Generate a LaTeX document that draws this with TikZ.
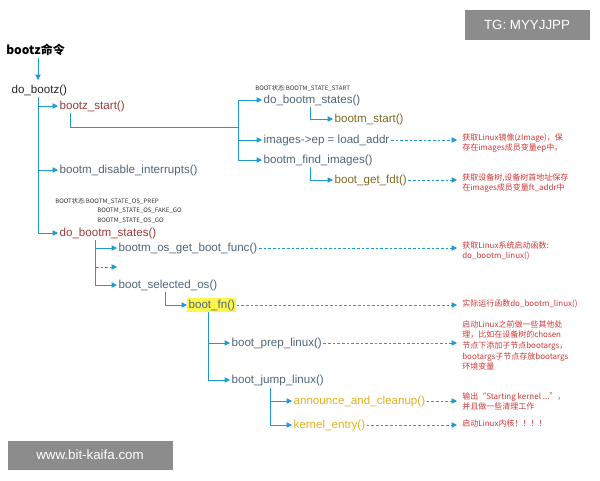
\documentclass[tikz,border=0pt]{standalone}
\usepackage{fontspec}
\setmainfont{Liberation Sans}
\newfontfamily\cjk{Noto Sans CJK SC}
\usetikzlibrary{arrows.meta}
\definecolor{arr}{HTML}{1E9AD0}
\definecolor{fn}{HTML}{4E6678}
\definecolor{fr}{HTML}{9A3A3A}
\definecolor{fo}{HTML}{7E6A22}
\definecolor{fy}{HTML}{E0B020}
\definecolor{nt}{HTML}{D03535}
\begin{document}
\begin{tikzpicture}[x=0.75pt,y=-0.75pt,
 t/.style={anchor=west,inner sep=1pt,font=\fontsize{8.7}{10}\selectfont,text=fn},
 nt/.style={anchor=north west,inner sep=0pt,font=\cjk\fontsize{6}{8}\selectfont,text=nt,align=left},
 st/.style={anchor=west,inner sep=0pt,font=\cjk\fontsize{4.6}{5}\selectfont,text=black!80},
 a/.style={draw=arr,line width=0.6pt,-{Triangle[length=4pt,width=4pt]}},
 d/.style={a,dashed,dash pattern=on 2pt off 1.5pt}]
\useasboundingbox (0,0) rectangle (600,480);
\node[fill=black!45,text=white,minimum width=125pt*0.75,minimum height=30pt*0.75,font=\fontsize{10}{12}\selectfont] (tg) at (527,25) {TG: MYYJJPP};
\node[fill=black!45,text=white,minimum width=165pt*0.75,minimum height=29pt*0.75,font=\fontsize{10}{12}\selectfont] (web) at (90,455) {www.bit-kaifa.com};
\node[anchor=west,inner sep=0pt,font=\bfseries\cjk\fontsize{9}{10}\selectfont] (cmd) at (6,50) {bootz命令};
\node[t,text=black!85] (dobootz) at (10,90) {do\_bootz()};
\draw[a] (38,58) -- (38,80);
\node[t,text=fr] (bzs) at (58,106) {bootz\_start()};
\node[t] (bdi) at (58,170) {bootm\_disable\_interrupts()};
\node[t,text=fr] (dbs2) at (58,233) {do\_bootm\_states()};
\draw[a] (38,97) |- (bzs.west);
\draw[a] (38,97) |- (bdi.west);
\draw[a] (38,97) |- (dbs2.west);
\node[st] (s1) at (255,88) {BOOT状态:BOOTM\_STATE\_START};
\node[t] (dbs1) at (262,100) {do\_bootm\_states()};
\node[t] (iep) at (262,140) {images->ep = load\_addr};
\node[t] (bfi) at (262,160) {bootm\_find\_images()};
\node[t,text=fo] (bst) at (333,119) {bootm\_start()};
\node[t,text=fo] (bgf) at (333,180) {boot\_get\_fdt()};
\coordinate (j1) at (238,127);
\draw[draw=arr,line width=0.6pt] (70,113) |- (j1);
\draw[a] (j1) |- (dbs1.west);
\draw[a] (j1) |- (iep.west);
\draw[a] (j1) |- (bfi.west);
\draw[a] (310,107) |- (bst.west);
\draw[a] (310,167) |- (bgf.west);
\node[nt] (n1) at (462,133) {获取Linux镜像(zImage)，保\\存在images成员变量ep中。};
\node[nt] (n2) at (462,173) {获取设备树,设备树首地址保存\\在images成员变量ft\_addr中};
\draw[d] (iep.east) -- (457,140);
\draw[d] (bgf.east) -- (457,180);
\node[st] (s2) at (55,201) {BOOT状态:BOOTM\_STATE\_OS\_PREP};
\node[st] (s3) at (97,211) {BOOTM\_STATE\_OS\_FAKE\_GO};
\node[st] (s4) at (97,221) {BOOTM\_STATE\_OS\_GO};
\node[t] (gbf) at (117,248) {bootm\_os\_get\_boot\_func()};
\coordinate (dots) at (117,267);
\node[t] (bso) at (117,285) {boot\_selected\_os()};
\draw[a] (95,240) |- (gbf.west);
\draw[d] (95,240) |- (dots);
\draw[a] (95,240) |- (bso.west);
\node[t,fill=yellow!70,inner xsep=1pt] (bfn) at (187,305) {boot\_fn\textcolor{fn}{()}};
\draw[a] (165,292) |- (bfn.west);
\node[t] (bpl) at (230,343) {boot\_prep\_linux()};
\node[t] (bjl) at (230,380) {boot\_jump\_linux()};
\draw[a] (208,312) |- (bpl.west);
\draw[a] (208,312) |- (bjl.west);
\node[t,text=fy] (aac) at (292,401) {announce\_and\_cleanup()};
\node[t,text=fy] (ke) at (292,425) {kernel\_entry()};
\draw[a] (270,388) |- (aac.west);
\draw[a] (270,388) |- (ke.west);
\node[nt] (n3) at (462,241) {获取Linux系统启动函数:\\do\_bootm\_linux()};
\node[nt] (n4) at (462,299) {实际运行函数do\_bootm\_linux()};
\node[nt] (n5) at (462,320) {启动Linux之前做一些其他处\\理，比如在设备树的chosen\\节点下添加子节点bootargs，\\bootargs子节点存放bootargs\\环境变量};
\node[nt] (n6) at (462,392) {输出“Starting kernel ...”，\\并且做一些清理工作};
\node[nt] (n7) at (462,419) {启动Linux内核！！！！};
\draw[d] (gbf.east) -- (457,248);
\draw[d] (bfn.east) -- (457,305);
\draw[d] (bpl.east) -- (457,343);
\draw[d] (aac.east) -- (457,401);
\draw[d] (ke.east) -- (457,425);
\end{tikzpicture}
\end{document}
